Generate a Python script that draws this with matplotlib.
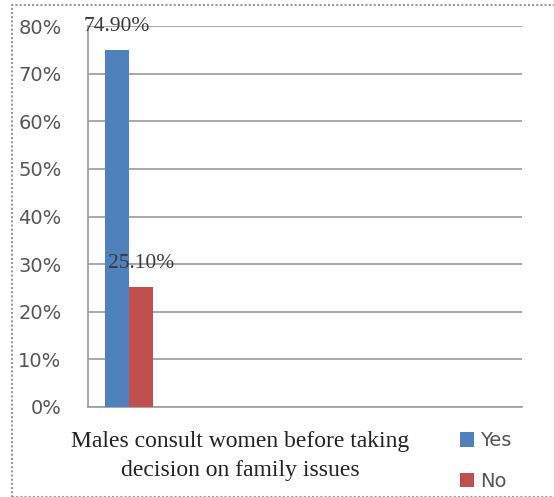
import numpy as np
import matplotlib.pyplot as plt
from matplotlib.patches import Rectangle

# survey answers
categories = ["Males consult women before taking\ndecision on family issues"]
series_names = ["Yes", "No"]
yes_pct = [74.9]
no_pct = [25.1]
value_labels = [["74.90%"], ["25.10%"]]
y_ticks = [0, 10, 20, 30, 40, 50, 60, 70, 80]

colors = ["#4F81BD", "#C0504D"]
grid_col = "#9a9a9a"

fig = plt.figure(figsize=(5.54, 4.97), dpi=100)
W, H = 554, 497
ax = fig.add_axes([88 / W, 1 - 407 / H, (522 - 88) / W, (407 - 26) / H])

x = np.arange(len(categories))
width = 0.5
for i, (vals, name) in enumerate(zip([yes_pct, no_pct], series_names)):
    pos = x + (i - 0.5) * width
    ax.bar(pos, vals, width, color=colors[i], label=name, zorder=3)
    for p, v, lab in zip(pos, vals, value_labels[i]):
        ax.text(p, v + 5, lab, ha="center", va="center", fontsize=15.5,
                family="Liberation Serif", color="#3a3a3a", zorder=4)

ax.set_xlim(-0.854, 8.19)
ax.set_ylim(0, 80)
ax.set_yticks(y_ticks)
ax.set_yticklabels([f"{t}%" for t in y_ticks], fontsize=14, color="#555555")
ax.tick_params(axis="y", length=0, pad=19)
ax.set_xticks([])
ax.grid(axis="y", color=grid_col, linewidth=1.2, zorder=0)
for s in ["top", "right"]:
    ax.spines[s].set_visible(False)
for s in ["left", "bottom"]:
    ax.spines[s].set_color(grid_col)
    ax.spines[s].set_linewidth(1.2)

fig.text(240 / W, 1 - 456 / H, categories[0], ha="center", va="center",
         fontsize=17, family="Liberation Serif", color="#222222",
         linespacing=1.45)

ax.legend(loc="center left", bbox_to_anchor=(442 / W, 1 - 461 / H),
          bbox_transform=fig.transFigure, frameon=False, fontsize=14,
          handlelength=0.75, handleheight=0.75, handletextpad=0.3,
          labelspacing=1.1, labelcolor="#555555")

# outer frame
fig.patches.append(Rectangle((12 / W, 0.5 / H), 1.2, 1 - 5.5 / H,
                             transform=fig.transFigure, fill=False,
                             edgecolor="#999999", linewidth=1.5,
                             linestyle=(0, (1, 1))))

fig.savefig("out.png", dpi=100)
